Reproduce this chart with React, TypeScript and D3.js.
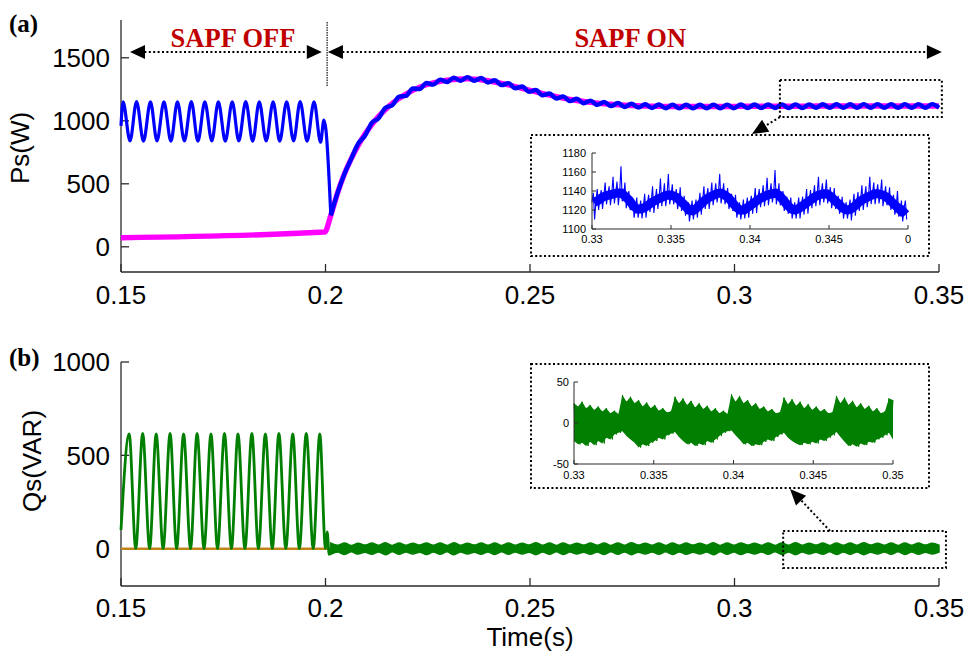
import React from 'react';
import * as d3 from 'd3';

// ---------------- data ----------------
const timeTicks = [0.15, 0.2, 0.25, 0.3, 0.35];
const timeTickLabels = ['0.15', '0.2', '0.25', '0.3', '0.35'];
const psTicks = [0, 500, 1000, 1500];
const qsTicks = [0, 500, 1000];

const insetXTicks = [0.33, 0.335, 0.34, 0.345, 0.35];
const insetPsXTickLabels = ['0.33', '0.335', '0.34', '0.345', '0'];
const insetQsXTickLabels = ['0.33', '0.335', '0.34', '0.345', '0.35'];
const insetPsYTicks = [1100, 1120, 1140, 1160, 1180];
const insetQsYTicks = [-50, 0, 50];

// Ps, SAPF OFF (source power oscillating), peaks/troughs
const psOffTimes = [0.15, 0.1505, 0.1522, 0.1538, 0.1555, 0.1572, 0.1588, 0.1605, 0.1622, 0.1638, 0.1655,
  0.1672, 0.1688, 0.1705, 0.1722, 0.1738, 0.1755, 0.1772, 0.1788, 0.1805, 0.1822, 0.1838, 0.1855, 0.1872,
  0.1888, 0.1905, 0.1922, 0.1938, 0.1955, 0.1972, 0.1988, 0.1996, 0.2001];
const psOffValues = [960, 1150, 840, 1152, 838, 1150, 840, 1151, 839, 1150, 840, 1152, 838, 1150, 840, 1151,
  839, 1150, 840, 1152, 838, 1150, 840, 1151, 839, 1150, 840, 1152, 838, 1150, 830, 1005, 930];

// SAPF ON portion (uniform samples from onStart to onEnd)
const onStart = 0.2013;
const onEnd = 0.35;
const psOnValues = [250, 430, 580, 700, 819, 881, 984, 1021, 1104, 1124,
  1192, 1198, 1256, 1252, 1300, 1287, 1327, 1308, 1342, 1318,
  1347, 1317, 1340, 1304, 1322, 1283, 1299, 1258, 1272, 1230,
  1244, 1202, 1217, 1177, 1194, 1156, 1175, 1139, 1160, 1126,
  1149, 1117, 1141, 1110, 1135, 1105, 1131, 1102, 1129, 1100,
  1128, 1099, 1127, 1099, 1127, 1099, 1128, 1100, 1128, 1100,
  1129, 1101, 1129, 1101, 1129, 1102, 1130, 1102, 1130, 1102,
  1130, 1103, 1131, 1103, 1131, 1103, 1131, 1103, 1132, 1104,
  1132, 1104, 1132, 1104, 1132, 1104, 1132, 1104, 1132, 1104];

// magenta (load / reference power)
const psLoadOffTimes = [0.15, 0.1998];
const psLoadOffValues = [72, 117];
const psLoadOnValues = [250, 430, 580, 700, 805, 895, 970, 1035, 1090, 1138,
  1178, 1212, 1242, 1266, 1286, 1301, 1313, 1322, 1328, 1332,
  1333, 1331, 1326, 1318, 1308, 1297, 1285, 1272, 1258, 1244,
  1230, 1216, 1203, 1191, 1180, 1170, 1161, 1153, 1146, 1140,
  1135, 1131, 1127, 1124, 1121, 1119, 1117, 1116, 1115, 1114,
  1114, 1113, 1113, 1113, 1113, 1113, 1114, 1114, 1114, 1114,
  1115, 1115, 1115, 1115, 1115, 1116, 1116, 1116, 1116, 1116,
  1116, 1117, 1117, 1117, 1117, 1117, 1117, 1117, 1118, 1118,
  1118, 1118, 1118, 1118, 1118, 1118, 1118, 1118, 1118, 1118];

// Qs, SAPF OFF
const qsOffTimes = [0.15, 0.1520, 0.1536, 0.1553, 0.1570, 0.1586, 0.1603, 0.1620, 0.1636, 0.1653, 0.1670,
  0.1686, 0.1703, 0.1720, 0.1736, 0.1753, 0.1770, 0.1786, 0.1803, 0.1820, 0.1836, 0.1853, 0.1870, 0.1886,
  0.1903, 0.1920, 0.1936, 0.1953, 0.1970, 0.1986, 0.2000, 0.2004, 0.2009, 0.2013];
const qsOffValues = [100, 615, 0, 618, 0, 615, 0, 617, 0, 615, 0, 618, 0, 615, 0, 617, 0, 615, 0, 618, 0,
  615, 0, 617, 0, 615, 0, 618, 0, 615, 0, 90, -30, 0];
// Qs, SAPF ON: ripple band half-width
const qsOnEnvelope = [30, 18, 31, 17, 29, 19, 30, 18, 32, 17,
  30, 18, 29, 19, 31, 18, 30, 17, 32, 18,
  29, 19, 30, 18, 31, 17, 30, 18, 29, 19,
  32, 18, 30, 17, 31, 18, 29, 19, 30, 18,
  31, 17, 30, 18, 32, 19, 29, 18, 30, 17,
  31, 18, 30, 19, 29, 18, 32, 17, 30, 18,
  31, 19, 29, 18, 30, 17, 31, 18, 32, 18,
  29, 19, 30, 17, 31, 18, 30, 18, 32, 19,
  29, 18, 30, 17, 31, 18, 30, 19, 29, 18];
const qsLoadValue = [0, 0];
const qsLoadTimes = [0.15, 0.35];

// Inset (a): 0.33 - 0.35
const insetPsCenter = [1128, 1130, 1133, 1135, 1136, 1137, 1138, 1138, 1134, 1130,
  1124, 1121, 1121, 1123, 1126, 1129, 1131, 1133, 1135, 1136,
  1135, 1133, 1129, 1125, 1120, 1119, 1122, 1126, 1130, 1133,
  1135, 1137, 1138, 1136, 1133, 1128, 1123, 1120, 1120, 1123,
  1126, 1129, 1132, 1134, 1136, 1137, 1138, 1135, 1130, 1125,
  1121, 1120, 1122, 1125, 1128, 1131, 1134, 1136, 1137, 1137,
  1134, 1130, 1126, 1122, 1120, 1121, 1124, 1128, 1131, 1133,
  1135, 1137, 1137, 1136, 1134, 1130, 1126, 1122, 1118, 1122];
const insetPsUp = [10, 12, 8, 14, 9, 18, 12, 28, 15, 10, 8, 12, 9, 14, 10, 16, 11, 20, 13, 22,
  12, 9, 15, 10, 8, 11, 9, 12, 15, 10, 14, 11, 20, 12, 10, 9, 13, 8, 11, 10,
  9, 14, 10, 12, 18, 11, 24, 13, 10, 9, 12, 8, 11, 9, 14, 10, 12, 19, 11, 15,
  10, 13, 9, 12, 8, 10, 13, 11, 15, 12, 20, 12, 10, 16, 11, 14, 10, 18, 12, 8];
const insetPsDown = [18, 10, 12, 9, 11, 10, 13, 9, 12, 10, 12, 9, 10, 11, 8, 12, 10, 9, 11, 10,
  9, 12, 10, 11, 12, 9, 10, 11, 9, 12, 10, 9, 11, 10, 12, 9, 11, 10, 9, 11,
  10, 12, 9, 10, 11, 9, 12, 10, 11, 9, 10, 9, 11, 10, 12, 9, 10, 11, 9, 10,
  12, 9, 10, 11, 9, 12, 10, 9, 11, 10, 9, 11, 10, 12, 9, 10, 11, 9, 10, 12];

// Inset (b)
const insetQsHigh = [24, 20, 26, 18, 22, 16, 20, 14, 18, 12, 15, 11,
  34, 26, 32, 24, 28, 20, 25, 18, 22, 15, 18, 13, 14,
  32, 24, 30, 22, 27, 19, 24, 17, 21, 14, 18, 12, 15, 11,
  35, 26, 33, 24, 28, 20, 24, 17, 20, 14, 17, 12, 13,
  31, 23, 29, 21, 26, 18, 23, 16, 20, 14, 17, 12, 13,
  33, 24, 31, 22, 27, 19, 24, 17, 21, 14, 18, 12, 14, 30, 28];
const insetQsLow = [-22, -26, -24, -28, -23, -27, -22, -25, -18, -20, -14, -12,
  -10, -16, -20, -24, -30, -26, -28, -24, -22, -18, -20, -15, -13,
  -11, -17, -22, -26, -24, -28, -25, -27, -22, -24, -20, -16, -12, -10,
  -9, -15, -20, -26, -24, -28, -26, -27, -23, -20, -22, -17, -14,
  -12, -18, -22, -25, -27, -24, -26, -23, -25, -20, -22, -18, -15,
  -11, -17, -23, -28, -26, -29, -25, -27, -23, -24, -20, -18, -15, -12, -20];

// ---------------- helpers ----------------
const SANS = '"Liberation Sans", Arial, Helvetica, sans-serif';
const SERIF = '"Liberation Serif", "Times New Roman", serif';
const BLUE = '#0000ff';
const MAGENTA = '#ff00ff';
const GREEN = '#007f00';
const ORANGE = '#c08418';
const AXIS = '#2a2a2a';
const RED = '#c00000';

function arrowHead(tipX: number, tipY: number, fromX: number, fromY: number, len = 15, half = 7) {
  const dx = fromX - tipX, dy = fromY - tipY;
  const d = Math.hypot(dx, dy) || 1;
  const ux = dx / d, uy = dy / d;
  const bx = tipX + ux * len, by = tipY + uy * len;
  const nx = -uy, ny = ux;
  return `M${tipX},${tipY}L${bx + nx * half},${by + ny * half}L${bx - nx * half},${by - ny * half}Z`;
}

type Pt = [number, number];

export default function App() {
  const x = d3.scaleLinear().domain([0.15, 0.35]).range([121, 939]);
  const yP = d3.scaleLinear().domain([-200, 1800]).range([272, 20]);
  const yQ = d3.scaleLinear().domain([-200, 1000]).range([586, 362]);

  const nOn = psOnValues.length;
  const onTimes = d3.range(nOn).map((k) => onStart + (k * (onEnd - onStart)) / (nOn - 1));

  const lineP = d3.line<Pt>().x((d) => x(d[0])).y((d) => yP(d[1])).curve(d3.curveMonotoneX);
  const lineQ = d3.line<Pt>().x((d) => x(d[0])).y((d) => yQ(d[1])).curve(d3.curveMonotoneX);

  const blueOffPts: Pt[] = [
    ...psOffTimes.map((t, i) => [t, psOffValues[i]] as Pt),
    [onTimes[0], psOnValues[0]],
  ];
  const blueOnPts: Pt[] = onTimes.map((t, k) => [t, psOnValues[k]] as Pt);
  const magentaPts: Pt[] = [
    ...psLoadOffTimes.map((t, i) => [t, psLoadOffValues[i]] as Pt),
    ...onTimes.map((t, k) => [t, psLoadOnValues[k]] as Pt),
  ];
  const greenOffPts: Pt[] = qsOffTimes.map((t, i) => [t, qsOffValues[i]] as Pt);
  const qsBand = onTimes.map((t, k) => ({ t, e: qsOnEnvelope[k] }));
  const areaQ = d3
    .area<{ t: number; e: number }>()
    .x((d) => x(d.t))
    .y0((d) => yQ(-d.e))
    .y1((d) => yQ(d.e))
    .curve(d3.curveMonotoneX);

  // insets
  const ixA = d3.scaleLinear().domain([0.33, 0.35]).range([592, 908]);
  const iyA = d3.scaleLinear().domain([1100, 1180]).range([229, 153]);
  const ixB = d3.scaleLinear().domain([0.33, 0.35]).range([574, 893]);
  const iyB = d3.scaleLinear().domain([-50, 50]).range([464, 382]);
  const nA = insetPsCenter.length;
  const stepA = 0.02 / nA;
  const zigA: Pt[] = [];
  insetPsCenter.forEach((c, i) => {
    const t = 0.33 + i * stepA;
    zigA.push([t, c]);
    zigA.push([t + stepA / 3, c + insetPsUp[i]]);
    zigA.push([t + (2 * stepA) / 3, c - insetPsDown[i]]);
  });
  const centerA: Pt[] = insetPsCenter.map((c, i) => [0.33 + (i + 0.5) * stepA, c]);
  const lineIA = d3.line<Pt>().x((d) => ixA(d[0])).y((d) => iyA(d[1]));
  const nB = insetQsHigh.length;
  const stepB = 0.02 / (nB - 1);
  const bandB = insetQsHigh.map((h, i) => ({ t: 0.33 + i * stepB, h, l: insetQsLow[i] }));
  const areaIB = d3
    .area<{ t: number; h: number; l: number }>()
    .x((d) => ixB(d.t))
    .y0((d) => iyB(d.l))
    .y1((d) => iyB(d.h));
  const zigB: Pt[] = [];
  bandB.forEach((d, i) => {
    zigB.push([d.t, d.h]);
    if (i < nB - 1) zigB.push([d.t + stepB / 2, d.l]);
  });
  const lineIB = d3.line<Pt>().x((d) => ixB(d[0])).y((d) => iyB(d[1]));

  // annotation geometry (data coords through scales)
  const arrowY = yP(1546);
  const offL = x(0.1522), offR = x(0.1991);
  const onL = x(0.2006), onR = x(0.3507);
  const zA = { x0: x(0.3111), x1: x(0.3507), y0: yP(1324), y1: yP(1030) };
  const zB = { x0: x(0.3119), x1: x(0.3517), y0: yQ(95), y1: yQ(-103) };
  const boxA = { x0: 531, y0: 135, x1: 929, y1: 256 };
  const boxB = { x0: 531, y0: 364, x1: 929, y1: 488 };

  const dotted = { stroke: '#000', strokeWidth: 2, strokeDasharray: '2 2.4', fill: 'none' };

  const mainXAxis = (yBase: number, labelY: number) => (
    <g>
      <line x1={x(0.15)} x2={x(0.35)} y1={yBase} y2={yBase} stroke={AXIS} strokeWidth={1.3} />
      {timeTicks.map((t, i) => (
        <g key={i}>
          <line x1={x(t)} x2={x(t)} y1={yBase} y2={yBase - 8} stroke={AXIS} strokeWidth={1.3} />
          <text x={x(t)} y={labelY} textAnchor="middle" fontFamily={SANS} fontSize={26} fill="#000">
            {timeTickLabels[i]}
          </text>
        </g>
      ))}
    </g>
  );

  return (
    <svg width={969} height={655} style={{ position: 'absolute', left: 0, top: 0, background: '#fff' }}>
      <rect x={0} y={0} width={969} height={655} fill="#fff" />
      {/* ---------- panel (a) ---------- */}
      <text x={9} y={32} fontFamily={SERIF} fontWeight="bold" fontSize={25}>(a)</text>
      <line x1={x(0.15)} x2={x(0.15)} y1={yP(1800)} y2={yP(-200)} stroke={AXIS} strokeWidth={1.3} />
      {psTicks.map((v) => (
        <g key={v}>
          <line x1={x(0.15)} x2={x(0.15) + 8} y1={yP(v)} y2={yP(v)} stroke={AXIS} strokeWidth={1.3} />
          <text x={110} y={yP(v)} dy="0.36em" textAnchor="end" fontFamily={SANS} fontSize={26}>{v}</text>
        </g>
      ))}
      {mainXAxis(yP(-200), 304)}
      <text transform={`translate(29,148) rotate(-90)`} textAnchor="middle" fontFamily={SANS} fontSize={26}>Ps(W)</text>

      <path d={lineP(magentaPts) || ''} fill="none" stroke={MAGENTA} strokeWidth={5.4} strokeLinejoin="round" />
      <path d={lineP(blueOffPts) || ''} fill="none" stroke={BLUE} strokeWidth={3.2} strokeLinejoin="round" />
      <path d={lineP(blueOnPts) || ''} fill="none" stroke={BLUE} strokeWidth={4.4} strokeLinejoin="round" />

      {/* SAPF annotations */}
      <line x1={x(0.2004)} x2={x(0.2004)} y1={yP(1784)} y2={yP(1268)} stroke="#333" strokeWidth={1.4} strokeDasharray="1.5 1" />
      <line x1={offL + 10} x2={offR - 10} y1={arrowY} y2={arrowY} {...dotted} />
      <path d={arrowHead(offL, arrowY, offR, arrowY)} fill="#000" />
      <path d={arrowHead(offR, arrowY, offL, arrowY)} fill="#000" />
      <line x1={onL + 10} x2={onR - 10} y1={arrowY} y2={arrowY} {...dotted} />
      <path d={arrowHead(onL, arrowY, onR, arrowY)} fill="#000" />
      <path d={arrowHead(onR, arrowY, onL, arrowY)} fill="#000" />
      <text x={x(0.1774)} y={47} textAnchor="middle" fontFamily={SERIF} fontWeight="bold" fontSize={26.5} fill={RED}>SAPF OFF</text>
      <text x={x(0.2745)} y={47} textAnchor="middle" fontFamily={SERIF} fontWeight="bold" fontSize={26.5} fill={RED}>SAPF ON</text>

      {/* zoom rect + arrow (a) */}
      <rect x={zA.x0} y={zA.y0} width={zA.x1 - zA.x0} height={zA.y1 - zA.y0} {...dotted} />
      <line x1={zA.x0} y1={zA.y1} x2={762} y2={128} {...dotted} />
      <path d={arrowHead(752, 134, zA.x0, zA.y1, 16, 7)} fill="#000" />

      {/* inset (a) */}
      <rect x={boxA.x0} y={boxA.y0} width={boxA.x1 - boxA.x0} height={boxA.y1 - boxA.y0} fill="#fff" {...{ stroke: '#000', strokeWidth: 2, strokeDasharray: '2 2.4' }} />
      <path d={lineIA(centerA) || ''} fill="none" stroke={BLUE} strokeWidth={9} strokeLinejoin="round" />
      <path d={lineIA(zigA) || ''} fill="none" stroke={BLUE} strokeWidth={1.1} />
      <line x1={ixA(0.33)} x2={ixA(0.33)} y1={iyA(1180)} y2={iyA(1100)} stroke={AXIS} strokeWidth={1} />
      <line x1={ixA(0.33)} x2={ixA(0.35)} y1={iyA(1100)} y2={iyA(1100)} stroke={AXIS} strokeWidth={1} />
      {insetPsYTicks.map((v) => (
        <g key={v}>
          <line x1={ixA(0.33)} x2={ixA(0.33) + 4} y1={iyA(v)} y2={iyA(v)} stroke={AXIS} />
          <text x={ixA(0.33) - 6} y={iyA(v)} dy="0.36em" textAnchor="end" fontFamily={SANS} fontSize={11}>{v}</text>
        </g>
      ))}
      {insetXTicks.map((t, i) => (
        <g key={i}>
          <line x1={ixA(t)} x2={ixA(t)} y1={iyA(1100)} y2={iyA(1100) - 4} stroke={AXIS} />
          <text x={ixA(t)} y={iyA(1100) + 14} textAnchor="middle" fontFamily={SANS} fontSize={11}>{insetPsXTickLabels[i]}</text>
        </g>
      ))}

      {/* ---------- panel (b) ---------- */}
      <text x={9} y={366} fontFamily={SERIF} fontWeight="bold" fontSize={25}>(b)</text>
      <line x1={x(0.15)} x2={x(0.15)} y1={yQ(1000)} y2={yQ(-200)} stroke={AXIS} strokeWidth={1.3} />
      {qsTicks.map((v) => (
        <g key={v}>
          <line x1={x(0.15)} x2={x(0.15) + 8} y1={yQ(v)} y2={yQ(v)} stroke={AXIS} strokeWidth={1.3} />
          <text x={110} y={yQ(v)} dy="0.36em" textAnchor="end" fontFamily={SANS} fontSize={26}>{v}</text>
        </g>
      ))}
      {mainXAxis(yQ(-200), 617)}
      <text transform={`translate(41,461) rotate(-90)`} textAnchor="middle" fontFamily={SANS} fontSize={26}>Qs(VAR)</text>
      <text x={530} y={646} textAnchor="middle" fontFamily={SANS} fontSize={26}>Time(s)</text>

      <line x1={x(qsLoadTimes[0])} x2={x(qsLoadTimes[1])} y1={yQ(qsLoadValue[0])} y2={yQ(qsLoadValue[1])} stroke={ORANGE} strokeWidth={2.5} />
      <path d={lineQ(greenOffPts) || ''} fill="none" stroke={GREEN} strokeWidth={2.8} strokeLinejoin="round" />
      <path d={areaQ(qsBand) || ''} fill={GREEN} stroke={GREEN} strokeWidth={1.5} />

      {/* zoom rect + arrow (b) */}
      <rect x={zB.x0} y={zB.y0} width={zB.x1 - zB.x0} height={zB.y1 - zB.y0} {...dotted} />
      <line x1={830} y1={zB.y0} x2={799} y2={498} {...dotted} />
      <path d={arrowHead(790, 489, 830, zB.y0, 16, 7)} fill="#000" />

      {/* inset (b) */}
      <rect x={boxB.x0} y={boxB.y0} width={boxB.x1 - boxB.x0} height={boxB.y1 - boxB.y0} fill="#fff" {...{ stroke: '#000', strokeWidth: 2, strokeDasharray: '2 2.4' }} />
      <path d={areaIB(bandB) || ''} fill={GREEN} stroke="none" />
      <path d={lineIB(zigB) || ''} fill="none" stroke={GREEN} strokeWidth={1} />
      <line x1={ixB(0.33)} x2={ixB(0.33)} y1={iyB(50)} y2={iyB(-50)} stroke={AXIS} strokeWidth={1} />
      <line x1={ixB(0.33)} x2={ixB(0.35)} y1={iyB(-50)} y2={iyB(-50)} stroke={AXIS} strokeWidth={1} />
      {insetQsYTicks.map((v) => (
        <g key={v}>
          <line x1={ixB(0.33)} x2={ixB(0.33) + 4} y1={iyB(v)} y2={iyB(v)} stroke={AXIS} />
          <text x={ixB(0.33) - 5} y={iyB(v)} dy="0.36em" textAnchor="end" fontFamily={SANS} fontSize={11}>{v}</text>
        </g>
      ))}
      {insetXTicks.map((t, i) => (
        <g key={i}>
          <line x1={ixB(t)} x2={ixB(t)} y1={iyB(-50)} y2={iyB(-50) - 4} stroke={AXIS} />
          <text x={ixB(t)} y={iyB(-50) + 15} textAnchor="middle" fontFamily={SANS} fontSize={11}>{insetQsXTickLabels[i]}</text>
        </g>
      ))}
    </svg>
  );
}
